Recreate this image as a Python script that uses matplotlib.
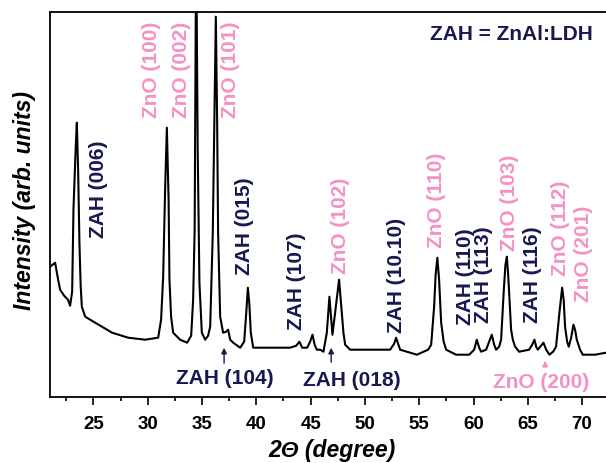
# Difratograma de raios X - ZnAl:LDH / ZnO

import matplotlib
matplotlib.use("Agg")
import matplotlib.pyplot as plt

# Curva (2θ em graus, intensidade em unidades arbitrárias)
two_theta = [21.01, 21.47, 21.75, 21.93, 22.30, 22.66, 22.85, 23.04, 23.16, 23.36,
             23.47, 23.59, 23.71, 23.82, 23.93, 24.24, 25.16, 26.72, 28.20, 29.76,
             30.96, 31.23, 31.42, 31.60, 31.76, 31.92, 32.00, 32.15, 32.34, 32.98,
             33.63, 34.00, 34.18, 34.32, 34.46, 34.60, 34.76, 34.98, 35.29, 35.56,
             35.75, 35.99, 36.16, 36.27, 36.39, 36.48, 36.67, 36.94, 37.22, 37.40,
             37.59, 37.87, 38.51, 38.88, 39.06, 39.22, 39.36, 39.49, 39.71, 41.27,
             43.11, 43.67, 43.97, 44.22, 44.68, 44.95, 45.17, 45.37, 45.57, 45.88,
             46.18, 46.49, 46.73, 46.88, 47.01, 47.32, 47.62, 47.87, 48.02, 48.18,
             48.64, 50.48, 52.32, 52.69, 52.87, 53.06, 53.24, 54.78, 55.82, 56.10,
             56.37, 56.51, 56.67, 56.83, 57.02, 57.25, 57.48, 58.40, 59.60, 60.06,
             60.30, 60.52, 60.70, 61.16, 61.44, 61.68, 61.90, 62.08, 62.36, 62.54,
             62.79, 62.94, 63.07, 63.19, 63.31, 63.46, 63.62, 63.83, 64.20, 65.12,
             65.40, 65.61, 65.77, 65.92, 66.14, 66.44, 66.69, 66.99, 67.33, 67.60,
             67.91, 68.16, 68.30, 68.43, 68.62, 68.77, 68.99, 69.20, 69.35, 69.51,
             69.81, 70.06, 71.19, 72.20]
intensidade = [130, 134, 117, 107, 101, 97, 91, 105, 187, 247,
               274, 227, 154, 112, 90, 80, 74, 64, 59, 57,
               59, 77, 120, 207, 269, 197, 117, 80, 64, 57,
               54, 61, 97, 167, 460, 247, 114, 64, 57, 61,
               70, 164, 297, 380, 277, 164, 80, 64, 65, 67,
               57, 54, 49, 55, 82, 109, 92, 64, 49, 49,
               49, 51, 55, 49, 49, 55, 62, 52, 47, 47,
               45, 64, 100, 79, 62, 90, 117, 84, 64, 52,
               47, 47, 47, 53, 59, 53, 47, 42, 47, 52,
               90, 122, 139, 117, 74, 55, 47, 42, 42, 47,
               57, 49, 45, 47, 55, 62, 52, 47, 50, 57,
               107, 132, 140, 122, 97, 67, 57, 50, 45, 47,
               52, 57, 50, 47, 50, 54, 47, 42, 45, 50,
               84, 109, 97, 70, 55, 50, 59, 72, 67, 57,
               47, 42, 42, 44]

# Rótulos verticais dos picos
rotulos = ["ZAH (006)", "ZnO (100)", "ZnO (002)", "ZnO (101)", "ZAH (015)",
           "ZAH (107)", "ZnO (102)", "ZAH (10.10)", "ZnO (110)", "ZAH (110)",
           "ZAH (113)", "ZnO (103)", "ZAH (116)", "ZnO (112)", "ZnO (201)"]
rotulos_x = [25.43, 30.38, 33.08, 37.59, 38.88, 43.73, 47.79, 52.94, 56.62, 59.23,
             60.93, 63.28, 65.46, 67.97, 70.09]
rotulos_y = [158.7, 278.7, 278.7, 278.7, 121.7, 66.7, 122.7, 63.7, 148.7, 71.7,
             73.7, 145.7, 73.7, 120.7, 94.7]

# Rótulos com seta (texto, x do texto, y do texto, x da seta, y da ponta, y da cauda)
setas = [("ZAH (104)", 37.13, 18.7, 37.03, 51.7, 30.7),
         ("ZAH (018)", 48.82, 16.7, 46.89, 51.7, 31.7),
         ("ZnO (200)", 66.27, 14.7, 66.59, 38.7, 26.7)]

azul = "#16184f"
rosa = "#f590c5"

plt.rcParams['font.family'] = ['Liberation Sans', 'DejaVu Sans']

fig = plt.figure(figsize=(6.06, 4.63), dpi=100)
ax = fig.add_axes([50 / 606, 66.3 / 463, 564.7 / 606, 384.4 / 463])

ax.plot(two_theta, intensidade, color="black", linewidth=1.5)

for texto, x, y in zip(rotulos, rotulos_x, rotulos_y):
    cor = azul if texto.startswith("ZAH") else rosa
    ax.text(x, y, texto, rotation=90, ha="center", va="bottom",
            fontsize=15, fontweight="bold", color=cor)

for texto, tx, ty, ax_x, y_ponta, y_cauda in setas:
    cor = azul if texto.startswith("ZAH") else rosa
    ax.text(tx, ty, texto, ha="center", va="center", fontsize=15,
            fontweight="bold", color=cor)
    ax.annotate("", xy=(ax_x, y_ponta), xytext=(ax_x, y_cauda),
                arrowprops=dict(arrowstyle="-|>", color=cor, lw=1.0,
                                mutation_scale=8))

ax.text(63.45, 361.7, "ZAH = ZnAl:LDH", ha="center", va="center",
        fontsize=15, fontweight="bold", color=azul)

ax.set_xlim(21, 73)
ax.set_ylim(0, 384.4)
ax.set_xticks(range(25, 75, 5))
ax.set_xticks([22.5 + 5 * i for i in range(10)], minor=True)
ax.set_yticks([])
ax.tick_params(axis="x", which="major", direction="out", length=6, width=1.2,
               labelsize=13.5, pad=8)
ax.tick_params(axis="x", which="minor", direction="out", length=3, width=1.2)
for lbl in ax.get_xticklabels():
    lbl.set_fontweight("bold")
for sp in ax.spines.values():
    sp.set_linewidth(1.3)

fig.text(332 / 606, 1 - 450 / 463, "2Θ (degree)", ha="center", va="center",
         fontsize=16.5, fontweight="bold", style="italic")
fig.text(25 / 606, 1 - 200 / 463, "Intensity (arb. units)", ha="center",
         va="center", rotation=90, fontsize=16.5, fontweight="bold", style="italic")

fig.savefig("out.png", dpi=100)
